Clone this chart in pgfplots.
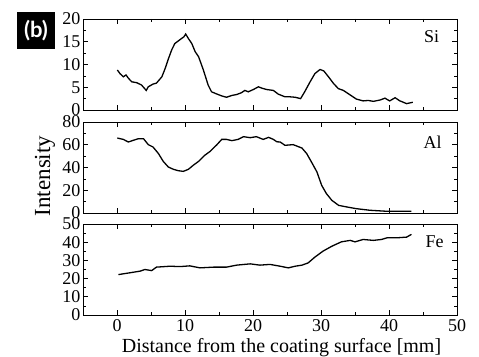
\documentclass[border=0pt]{standalone}
\usepackage{fontspec}
\setmainfont{Liberation Serif}
\newfontfamily\labfont{Lato}
\usepackage{pgfplots}
\pgfplotsset{compat=1.18}
\begin{document}
\begin{tikzpicture}
\useasboundingbox (0pt,0pt) rectangle (479pt,356pt);
\pgfplotsset{
  panel/.style={
    scale only axis, width=374pt, height=91pt,
    anchor=south west,
    xmin=-5, xmax=50,
    xtick={0,10,20,30,40,50},
    minor tick num=1,
    tick align=inside,
    major tick length=5pt, minor tick length=3pt,
    every tick/.style={black, line width=0.7pt},
    axis line style={line width=0.9pt},
    ticklabel style={font=\fontsize{18}{18}\selectfont},
    /pgf/number format/assume math mode=true,
    yticklabel style={xshift=1pt},
    xticklabel style={yshift=-1pt},
    clip=false,
  },
  curve/.style={black, line width=1.3pt, no markers},
}
% Si
\begin{axis}[panel, at={(83pt,246pt)}, ymin=0, ymax=20, ytick={0,5,10,15,20}, xticklabels={}]
\addplot[curve] coordinates {
(0.05,8.8)(0.44,8.0)(0.93,7.3)(1.32,7.7)(1.67,7.0)(2.16,6.2)(2.9,6.0)(3.6,5.5)(4.3,4.3)(4.6,5.1)(5.3,5.7)(5.8,5.9)(6.6,7.3)(7.1,9.2)(7.5,11.0)(8.04,13.2)(8.5,14.6)(9.3,15.5)(9.85,16.1)(10.1,16.7)(10.5,15.7)(11.0,14.6)(11.5,12.8)(12.0,11.7)(12.7,8.8)(13.4,5.5)(13.9,4.0)(14.7,3.5)(15.4,3.1)(16.1,2.8)(16.9,3.2)(17.6,3.4)(18.3,3.8)(18.8,4.3)(19.3,4.0)(20.05,4.5)(20.8,5.1)(21.3,4.8)(22.0,4.5)(23.0,4.3)(23.7,3.5)(24.7,2.9)(25.4,2.9)(26.2,2.8)(27.0,2.5)(27.6,4.0)(28.4,6.2)(29.1,8.0)(29.85,8.9)(30.4,8.6)(31.1,7.3)(31.8,5.9)(32.55,4.7)(33.3,4.3)(34.3,3.3)(35.2,2.4)(36.2,2.0)(36.95,2.1)(37.7,1.9)(38.7,2.2)(39.4,2.6)(40.1,2.0)(40.9,2.7)(41.6,2.0)(42.6,1.4)(43.5,1.7)
};
\node[font=\fontsize{18}{18}\selectfont] at (rel axis cs:0.932,0.81) {Si};
\end{axis}
% Al
\begin{axis}[panel, at={(83pt,143pt)}, ymin=0, ymax=80, ytick={0,20,40,60,80}, xticklabels={}]
\addplot[curve] coordinates {
(0.05,65.9)(0.93,64.7)(1.67,62.4)(2.4,63.9)(3.14,65.3)(3.9,65.3)(4.6,60.1)(5.3,58.0)(6.1,52.2)(6.8,45.4)(7.55,40.4)(8.3,38.4)(9.0,37.2)(9.75,36.6)(10.5,38.4)(11.2,41.9)(12.0,45.4)(12.9,50.7)(13.7,54.2)(14.7,60.1)(15.4,64.7)(16.1,64.7)(16.9,63.6)(17.8,64.7)(18.6,67.1)(19.6,66.2)(20.5,67.1)(21.5,64.7)(22.3,66.5)(23.0,64.7)(23.5,62.6)(24.0,62.4)(24.7,59.5)(25.9,60.1)(27.2,57.1)(27.9,52.2)(28.6,44.8)(29.4,36.1)(30.1,24.3)(30.8,17.0)(31.6,11.1)(32.6,6.7)(33.8,5.3)(35.2,3.8)(37.2,2.4)(39.7,1.5)(42.2,1.5)(43.3,1.5)
};
\node[font=\fontsize{18}{18}\selectfont] at (rel axis cs:0.935,0.78) {Al};
\end{axis}
% Fe
\begin{axis}[panel, at={(83pt,41pt)}, ymin=0, ymax=50, ytick={0,10,20,30,40,50}]
\addplot[curve] coordinates {
(0.2,22.2)(1.9,23.2)(3.4,24.1)(4.1,25.0)(5.1,24.4)(5.8,26.3)(7.8,26.8)(9.3,26.6)(10.7,27.0)(12.2,25.9)(14.2,26.3)(16.1,26.3)(17.6,27.4)(19.6,28.1)(21.0,27.4)(22.5,27.8)(24.0,26.8)(25.2,25.9)(26.2,26.8)(27.2,27.4)(28.1,28.6)(29.1,31.8)(30.3,35.1)(31.6,37.8)(33.0,40.2)(34.3,41.0)(35.0,40.2)(36.2,41.5)(37.7,41.0)(38.9,41.5)(39.7,42.4)(41.1,42.4)(42.6,42.8)(43.3,44.3)
};
\node[font=\fontsize{18}{18}\selectfont] at (rel axis cs:0.94,0.81) {Fe};
\end{axis}
\node[font=\fontsize{20}{20}\selectfont, anchor=base] at (281.5pt,3.3pt) {Distance from the coating surface [mm]};
\node[font=\fontsize{23}{23}\selectfont, rotate=90] at (45pt,180pt) {Intensity};
\node[fill=black, text=white, font=\labfont\bfseries\fontsize{22}{22}\selectfont, minimum width=38pt, minimum height=37pt, inner sep=0pt] at (36pt,325.5pt) {(b)};
\end{tikzpicture}
\end{document}
